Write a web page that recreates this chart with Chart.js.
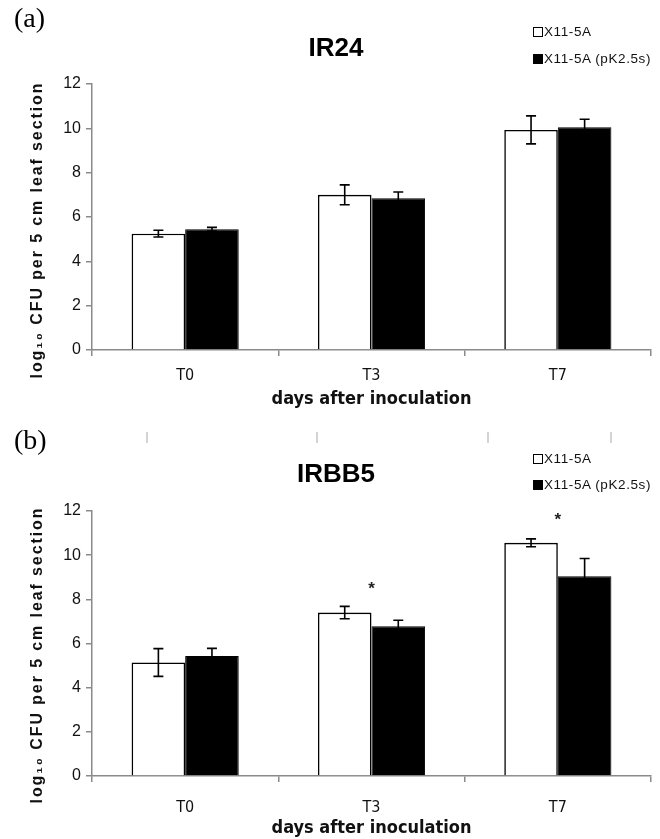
<!DOCTYPE html>
<html>
<head>
<meta charset="utf-8">
<script src="https://cdn.jsdelivr.net/npm/chart.js@4.4.1/dist/chart.umd.min.js"></script>
<style>
  body { margin: 0; background: #fff; font-family: "Liberation Sans", Arial, sans-serif; }
  .panel { position: absolute; left: 0; width: 660px; }
  .tag { position: absolute; left: 14px; font-family: "Liberation Serif", serif; font-size: 28px; color: #000; }
  .title { position: absolute; left: 236px; width: 200px; text-align: center; font-weight: bold; font-size: 26px; color: #000; }
  .ytitle { position: absolute; width: 340px; left: -133px; text-align: center; font-weight: bold; font-size: 16px;
            letter-spacing: 1.9px; color: #111; transform: rotate(-90deg); white-space: nowrap; line-height: 18px; }
  .legend { position: absolute; left: 533px; font-size: 13.5px; letter-spacing: 0.6px; color: #111; }
  .legend .row { display: flex; align-items: center; position: absolute; white-space: nowrap; }
  .sw { width: 10px; height: 10px; border: 1.5px solid #000; box-sizing: border-box; margin-right: 1px; }
  .ghost { position: absolute; top: 432px; width: 1.5px; height: 11px; background: #d4d4d4; }
</style>
</head>
<body>
<div class="panel" style="top:0;height:420px">
  <canvas id="chartA" width="660" height="420"></canvas>
  <div class="tag" style="top:2px">(a)</div>
  <div class="title" style="top:32px">IR24</div>
  <div class="ytitle" style="top:221px">log₁₀ CFU per 5 cm leaf section</div>
  <div class="legend" style="top:0">
    <div class="row" style="top:24px"><span class="sw" style="background:#fff"></span>X11-5A</div>
    <div class="row" style="top:51px"><span class="sw" style="background:#000"></span>X11-5A (pK2.5s)</div>
  </div>
</div>
<div class="ghost" style="left:146px"></div>
<div class="ghost" style="left:316px"></div>
<div class="ghost" style="left:487px"></div>
<div class="ghost" style="left:610px"></div>
<div class="panel" style="top:420px;height:419px">
  <canvas id="chartB" width="660" height="419"></canvas>
  <div class="tag" style="top:4px">(b)</div>
  <div class="title" style="top:38px">IRBB5</div>
  <div class="ytitle" style="top:226px">log₁₀ CFU per 5 cm leaf section</div>
  <div class="legend" style="top:0">
    <div class="row" style="top:31px"><span class="sw" style="background:#fff"></span>X11-5A</div>
    <div class="row" style="top:57px"><span class="sw" style="background:#000"></span>X11-5A (pK2.5s)</div>
  </div>
</div>
<script>
const categories = ['T0', 'T3', 'T7'];
const yTicks = [0, 2, 4, 6, 8, 10, 12];

// IR24
const ir24Strain = [5.25, 7.0, 9.93];
const ir24StrainErr = [0.15, 0.45, 0.63];
const ir24Comp = [5.45, 6.85, 10.05];
const ir24CompErr = [0.08, 0.28, 0.36];

// IRBB5
const irbb5Strain = [5.14, 7.4, 10.56];
const irbb5StrainErr = [0.63, 0.28, 0.18];
const irbb5Comp = [5.43, 6.78, 9.05];
const irbb5CompErr = [0.35, 0.27, 0.8];
const irbb5Stars = [null, 8.6, 11.7];

const axisGray = '#8a8a8a';
const narrow = '"Liberation Sans Narrow", "DejaVu Sans Condensed", "Liberation Sans", sans-serif';

// error bars + significance stars, positioned through the chart's scales
const errorBars = {
  id: 'errorBars',
  afterDatasetsDraw(chart) {
    const ctx = chart.ctx;
    const y = chart.scales.y;
    ctx.save();
    ctx.strokeStyle = '#000';
    ctx.lineWidth = 1.6;
    chart.data.datasets.forEach((ds, i) => {
      const meta = chart.getDatasetMeta(i);
      meta.data.forEach((bar, j) => {
        const v = ds.data[j], e = ds.errors[j];
        const top = y.getPixelForValue(v + e), bot = y.getPixelForValue(v - e);
        ctx.beginPath();
        ctx.moveTo(bar.x, top); ctx.lineTo(bar.x, bot);
        ctx.moveTo(bar.x - 5, top); ctx.lineTo(bar.x + 5, top);
        ctx.moveTo(bar.x - 5, bot); ctx.lineTo(bar.x + 5, bot);
        ctx.stroke();
      });
    });
    const stars = chart.options.plugins.errorBars.stars || [];
    ctx.fillStyle = '#222';
    ctx.font = 'bold 17px "Liberation Sans"';
    ctx.textAlign = 'center';
    ctx.textBaseline = 'middle';
    stars.forEach((s, j) => {
      if (s == null) return;
      ctx.fillText('*', chart.scales.x.getPixelForValue(j), y.getPixelForValue(s) + 3);
    });
    ctx.restore();
  }
};

function makeChart(id, strain, strainErr, comp, compErr, stars, xHeight, tickPad, titlePad) {
  return new Chart(document.getElementById(id), {
    type: 'bar',
    data: {
      labels: categories,
      datasets: [{
        label: 'X11-5A',
        data: strain,
        errors: strainErr,
        backgroundColor: '#fff',
        borderColor: '#000',
        borderWidth: 1.6
      }, {
        label: 'X11-5A (pK2.5s)',
        data: comp,
        errors: compErr,
        backgroundColor: '#000',
        borderColor: '#000',
        borderWidth: 1
      }]
    },
    options: {
      responsive: false,
      animation: false,
      devicePixelRatio: 1,
      categoryPercentage: 0.575,
      barPercentage: 1.0,
      layout: { padding: { top: id === 'chartA' ? 84 : 91, right: 9, left: 0, bottom: 0 } },
      plugins: {
        legend: { display: false },
        tooltip: { enabled: false },
        errorBars: { stars: stars }
      },
      scales: {
        x: {
          grid: { display: true, drawOnChartArea: false, tickLength: 6, color: axisGray, lineWidth: 1.5, offset: true },
          border: { color: axisGray, width: 1.5 },
          ticks: { color: '#111', padding: tickPad, font: { family: narrow, size: 16 } },
          title: {
            display: true,
            text: 'days after inoculation',
            color: '#111',
            padding: { top: 0, bottom: titlePad },
            font: { family: narrow, size: 18, weight: 'bold' }
          },
          afterFit: (s) => { s.height = xHeight; }
        },
        y: {
          min: 0,
          max: 12,
          afterBuildTicks: (s) => { s.ticks = yTicks.map(v => ({ value: v })); },
          grid: { display: true, drawOnChartArea: false, tickLength: 6, color: axisGray, lineWidth: 1.5 },
          border: { color: axisGray, width: 1.5 },
          ticks: { color: '#111', padding: 5, font: { family: '"Liberation Sans"', size: 16 } },
          afterFit: (s) => { s.width = 92; }
        }
      }
    },
    plugins: [errorBars]
  });
}

makeChart('chartA', ir24Strain, ir24StrainErr, ir24Comp, ir24CompErr, [], 70, 10, 10);
makeChart('chartB', irbb5Strain, irbb5StrainErr, irbb5Comp, irbb5CompErr, irbb5Stars, 63, 16, 0);
</script>
</body>
</html>
